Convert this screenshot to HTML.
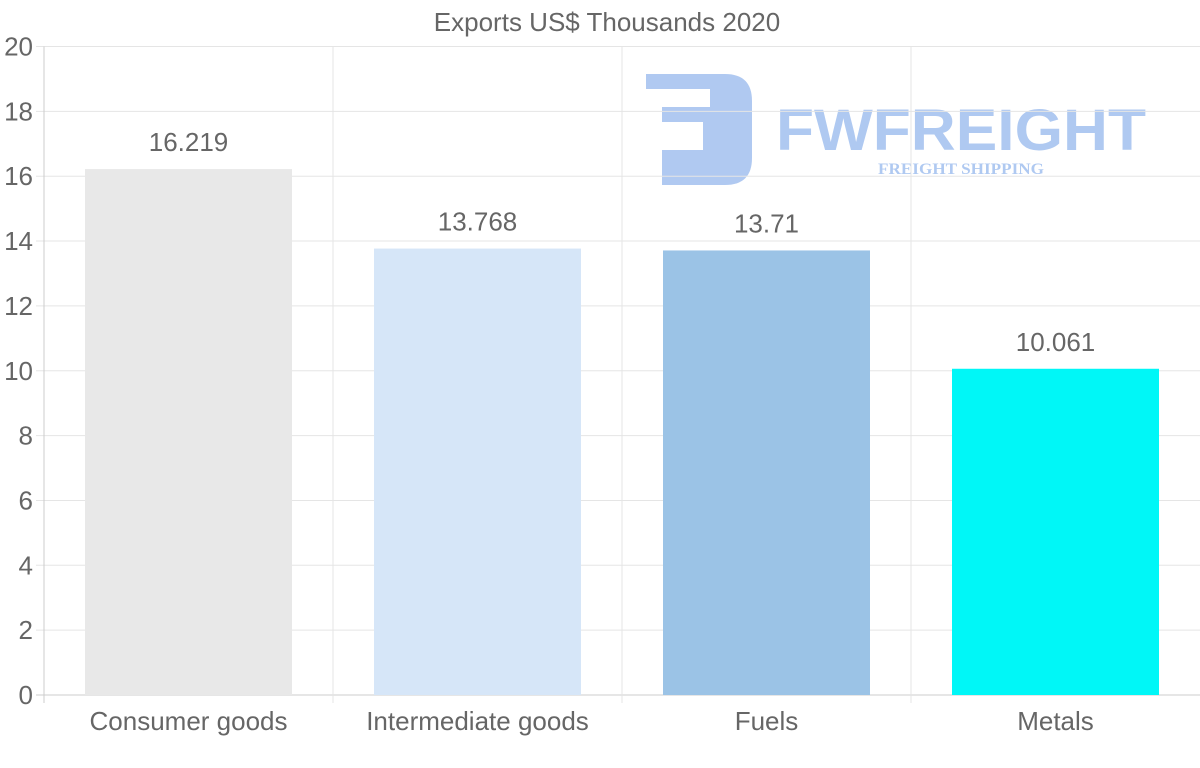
<!DOCTYPE html>
<html><head><meta charset="utf-8"><style>
body{margin:0;background:#fff;font-family:"Liberation Sans",sans-serif}
</style></head><body>
<svg id="c" width="1200" height="763" font-family="Liberation Sans, sans-serif" xmlns="http://www.w3.org/2000/svg">
<text x="607" y="31" text-anchor="middle" font-size="26" fill="#666">Exports US$ Thousands 2020</text>
<g opacity="0.55">
<path d="M646,74 H725 Q752,74 752,101 V158 Q752,185 725,185 H662 V150 H703 V122 H662 V107 H710 V89 H646 Z" fill="#6f9de6"/>
<text x="776" y="150" font-size="58" font-weight="bold" fill="#6f9de6" textLength="370" lengthAdjust="spacingAndGlyphs">FWFREIGHT</text>
<text x="878" y="174" font-size="16" font-weight="bold" fill="#6f9de6" style="font-family:'Liberation Serif',serif" textLength="166" lengthAdjust="spacingAndGlyphs">FREIGHT SHIPPING</text>
</g>
<g id="grid"></g><g id="bars"></g><g id="labels"></g>
</svg>
<script>
const categories=["Consumer goods","Intermediate goods","Fuels","Metals"];
const values=[16.219,13.768,13.71,10.061];
const valueLabels=["16.219","13.768","13.71","10.061"];
const colors=["#e8e8e8","#d6e6f8","#9bc3e6","#00f7f7"];
const yTicks=[0,2,4,6,8,10,12,14,16,18,20];
const NS="http://www.w3.org/2000/svg";
const L=44,R=1200,T=46.5,B=695,yMax=20;
const y=v=>B-(v/yMax)*(B-T);
const bw=(R-L)/categories.length;
const x=i=>L+i*bw;
function mk(tag,attrs,parent,txt){const e=document.createElementNS(NS,tag);for(const k in attrs)e.setAttribute(k,attrs[k]);if(txt!==undefined)e.textContent=txt;document.getElementById(parent).appendChild(e);return e;}
yTicks.forEach(t=>{
 const g=mk("line",{x1:36,x2:R,y1:y(t),y2:y(t),stroke:t===0?"#ccc":"#e5e5e5","stroke-width":1},"grid");
 
 
 const l=mk("text",{x:33,y:y(t)+9,"text-anchor":"end","font-size":26,fill:"#666"},"labels",t);
 
 
});
for(let i=0;i<=categories.length-1;i++){
 const v=mk("line",{x1:x(i),x2:x(i),y1:T,y2:B+8,stroke:i===0?"#ccc":"#e5e5e5","stroke-width":1},"grid");
 
 
}
categories.forEach((c,i)=>{
 const bx=x(i)+41,w=bw-82;
 const r=mk("rect",{x:bx,y:y(values[i]),width:w,height:B-y(values[i]),fill:colors[i]},"bars");
 
 
 const vl=mk("text",{x:x(i)+bw/2,y:y(values[i])-18,"text-anchor":"middle","font-size":26,fill:"#666"},"labels",valueLabels[i]);
 
 
 const cl=mk("text",{x:x(i)+bw/2,y:730,"text-anchor":"middle","font-size":26,fill:"#666"},"labels",c);
 
 
});
</script>
</body></html>
